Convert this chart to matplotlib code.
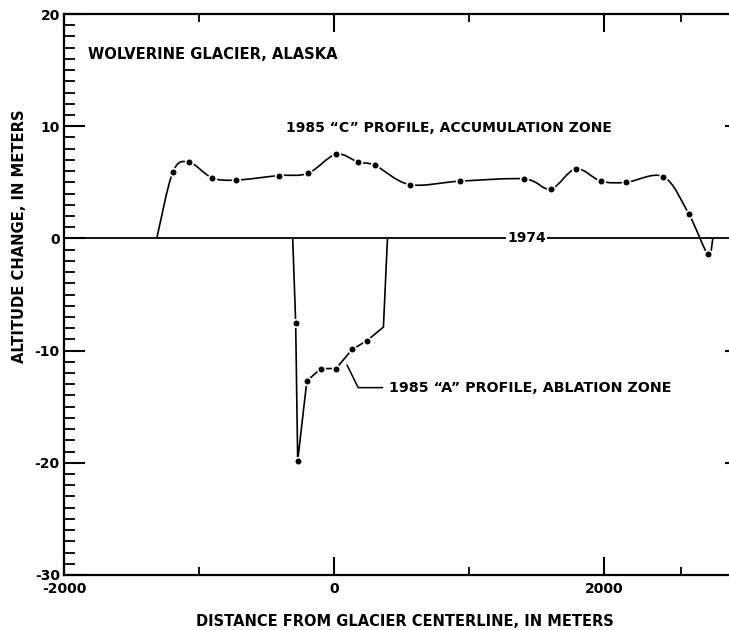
import numpy as np
import matplotlib.pyplot as plt
from matplotlib.path import Path
from matplotlib.patches import PathPatch
from matplotlib.ticker import MultipleLocator

plt.rcParams['font.family'] = ['DejaVu Sans']
plt.rcParams['font.weight'] = 'bold'
plt.rcParams['font.size'] = 10
plt.rcParams['axes.unicode_minus'] = False

# 1985 "C" profile, accumulation zone: surveyed points (m from centerline, m change since 1974)
c_dist = [-1194, -1075, -903, -724, -410, -194, 15, 179, 306, 560, 933,
          1410, 1604, 1791, 1978, 2164, 2440, 2627, 2769]
c_change = [5.9, 6.8, 5.4, 5.2, 5.6, 5.8, 7.5, 6.8, 6.5, 4.8, 5.1,
            5.3, 4.4, 6.2, 5.1, 5.0, 5.5, 2.2, -1.4]
# where the C profile meets the 1974 surface at each margin
c_edge_dist = [-1313, 2806]

# 1985 "A" profile, ablation zone
a_dist = [-284, -269, -201, -97, 15, 134, 246]
a_change = [-7.5, -19.8, -12.7, -11.6, -11.6, -9.9, -9.1]
# margins and the bend up to the east margin
a_edge_dist = [-306, 396]
a_bend = [366, -7.9]

x_major = [-2000, 0, 2000]
x_minor = [-1000, 1000, 2570]
y_major = [-30, -20, -10, 0, 10, 20]
y_right = [-20, -10, 10]


def smooth_path(xs, ys):
    # Catmull-Rom through the points, as cubic Bezier segments
    pts = np.column_stack([xs, ys]).astype(float)
    ext = np.vstack([pts[0], pts, pts[-1]])
    verts = [pts[0]]
    codes = [Path.MOVETO]
    for i in range(1, len(ext) - 2):
        p0, p1, p2, p3 = ext[i - 1], ext[i], ext[i + 1], ext[i + 2]
        verts += [p1 + (p2 - p0) / 6, p2 - (p3 - p1) / 6, p2]
        codes += [Path.CURVE4] * 3
    return Path(verts, codes)


fig = plt.figure(figsize=(7.29, 6.30), dpi=100)
ax = fig.add_axes([64 / 729, 55 / 630, (732 - 64) / 729, (575 - 14) / 630])
ax.set_xlim(-2000, 2948)
ax.set_ylim(-30, 20)

# 1974 reference surface
ax.axhline(0, color='black', lw=1.3, zorder=1)
ax.text(1425, 0, '1974', ha='center', va='center', fontsize=10,
        bbox=dict(fc='white', ec='none', pad=1), zorder=2)

# C profile
cx = [c_edge_dist[0]] + c_dist + [c_edge_dist[1]]
cy = [0] + c_change + [0]
ax.add_patch(PathPatch(smooth_path(cx, cy), fc='none', ec='black', lw=1.2, zorder=2))
ax.plot(c_dist, c_change, 'o', ms=5.5, mfc='black', mec='white', mew=1.2, zorder=3)

# A profile
ax_x = [a_edge_dist[0]] + a_dist + [a_bend[0], a_edge_dist[1]]
ax_y = [0] + a_change + [a_bend[1], 0]
ax.plot(ax_x, ax_y, color='black', lw=1.2, zorder=2)
ax.plot(a_dist, a_change, 'o', ms=5.5, mfc='black', mec='white', mew=1.2, zorder=3)

# labels
ax.text(-1821, 16.4, 'WOLVERINE GLACIER, ALASKA', ha='left', va='center', fontsize=10.6)
ax.text(850, 9.8, '1985 \u201cC\u201d PROFILE, ACCUMULATION ZONE', ha='center', va='center')
ax.plot([97, 179, 358], [-11.3, -13.3, -13.3], color='black', lw=1.1)
ax.text(410, -13.3, '1985 \u201cA\u201d PROFILE, ABLATION ZONE', ha='left', va='center',
        fontsize=10.3)

# axes frame and ticks
for side in ['left', 'top', 'bottom']:
    ax.spines[side].set_linewidth(1.6)
ax.spines['right'].set_visible(False)

ax.set_xticks(x_major)
ax.set_xticks(x_minor, minor=True)
ax.set_xticklabels([str(v) for v in x_major])
ax.set_yticks(y_major)
ax.set_yticklabels([str(v) for v in y_major])
ax.yaxis.set_minor_locator(MultipleLocator(1))

ax.tick_params(axis='x', which='major', direction='in', length=13, width=1.5,
               top=True, pad=5)
ax.tick_params(axis='x', which='minor', direction='in', length=6, width=1.3, top=True)
ax.tick_params(axis='y', which='major', direction='in', length=15, width=1.5,
               right=False, pad=3)
ax.tick_params(axis='y', which='minor', direction='in', length=8, width=1.3, right=False)

ax_r = ax.twinx()
ax_r.set_ylim(ax.get_ylim())
ax_r.set_yticks(y_right)
ax_r.set_yticklabels([])
ax_r.tick_params(axis='y', direction='in', length=5, width=1.5)
for s in ax_r.spines.values():
    s.set_visible(False)

fig.text(20 / 729, 1 - 236 / 630, 'ALTITUDE CHANGE, IN METERS', rotation=90,
         ha='center', va='center', fontsize=10.6)
fig.text(405 / 729, 1 - 621 / 630, 'DISTANCE FROM GLACIER CENTERLINE, IN METERS',
         ha='center', va='center', fontsize=10.5)

fig.savefig('out.png', dpi=100)
